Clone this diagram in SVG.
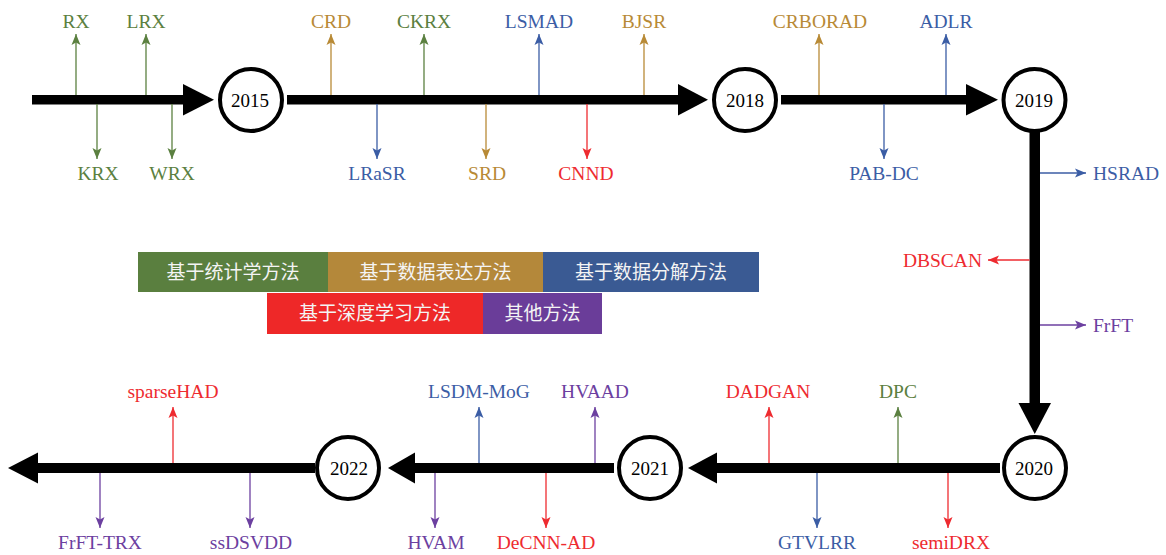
<svg xmlns="http://www.w3.org/2000/svg" width="1166" height="555" viewBox="0 0 1166 555">
<style>
.lbl{font-family:"Liberation Serif","Times New Roman",serif;font-size:19.5px}
.yr{font-family:"Liberation Serif","Times New Roman",serif;font-size:19px;fill:#000;text-anchor:middle}
.mid{text-anchor:middle}
.g{fill:#5b8040}.b{fill:#b88a36}.u{fill:#3b5da5}.r{fill:#ee2b30}.p{fill:#6c40a0}
.lg{stroke:#5b8040}.lb{stroke:#b88a36}.lu{stroke:#3b5da5}.lr{stroke:#ee2b30}.lp{stroke:#6c40a0}
.br line{stroke-width:1.3;fill:none}
.cir{fill:#fff;stroke:#000;stroke-width:4}
.leg{font-family:"Noto Sans CJK SC","Noto Sans CJK JP",sans-serif;font-size:19px;fill:#f4f4f4;text-anchor:middle}
</style>
<defs>
<marker id="mg" markerUnits="userSpaceOnUse" markerWidth="11" markerHeight="10" viewBox="0 0 11 10" refX="11" refY="5" orient="auto"><path d="M0,0.5 L11,5 L0,9.5 L2.5,5 z" fill="#5b8040"/></marker>
<marker id="mb" markerUnits="userSpaceOnUse" markerWidth="11" markerHeight="10" viewBox="0 0 11 10" refX="11" refY="5" orient="auto"><path d="M0,0.5 L11,5 L0,9.5 L2.5,5 z" fill="#b88a36"/></marker>
<marker id="mu" markerUnits="userSpaceOnUse" markerWidth="11" markerHeight="10" viewBox="0 0 11 10" refX="11" refY="5" orient="auto"><path d="M0,0.5 L11,5 L0,9.5 L2.5,5 z" fill="#3b5da5"/></marker>
<marker id="mr" markerUnits="userSpaceOnUse" markerWidth="11" markerHeight="10" viewBox="0 0 11 10" refX="11" refY="5" orient="auto"><path d="M0,0.5 L11,5 L0,9.5 L2.5,5 z" fill="#ee2b30"/></marker>
<marker id="mp" markerUnits="userSpaceOnUse" markerWidth="11" markerHeight="10" viewBox="0 0 11 10" refX="11" refY="5" orient="auto"><path d="M0,0.5 L11,5 L0,9.5 L2.5,5 z" fill="#6c40a0"/></marker>
</defs>

<g id="timeline" fill="#000">
<rect x="32" y="95" width="152" height="9.5"/>
<polygon points="183,84 214,99.75 183,115.5"/>
<rect x="287" y="95" width="392" height="9.5"/>
<polygon points="678,84 708,99.75 678,115.5"/>
<rect x="781" y="95" width="186" height="9.5"/>
<polygon points="966,84 998,99.75 966,115.5"/>
<rect x="1029.5" y="130" width="10.5" height="274"/>
<polygon points="1018.5,403 1034.75,434 1051,403"/>
<rect x="716" y="463" width="284" height="10"/>
<polygon points="717,452.5 688,468 717,483.5"/>
<rect x="414" y="463" width="200" height="10"/>
<polygon points="415,452.5 388,468 415,483.5"/>
<rect x="37" y="463" width="278" height="10"/>
<polygon points="38,452.5 8,468 38,483.5"/>
</g>

<g id="connectors" class="br">
<line x1="76" y1="95" x2="76" y2="34" class="lg" marker-end="url(#mg)"/>
<line x1="146" y1="95" x2="146" y2="34" class="lg" marker-end="url(#mg)"/>
<line x1="97" y1="104" x2="97" y2="159" class="lg" marker-end="url(#mg)"/>
<line x1="172" y1="104" x2="172" y2="159" class="lg" marker-end="url(#mg)"/>
<line x1="331" y1="95" x2="331" y2="34" class="lb" marker-end="url(#mb)"/>
<line x1="377" y1="104" x2="377" y2="159" class="lu" marker-end="url(#mu)"/>
<line x1="424" y1="95" x2="424" y2="34" class="lg" marker-end="url(#mg)"/>
<line x1="486" y1="104" x2="486" y2="159" class="lb" marker-end="url(#mb)"/>
<line x1="539" y1="95" x2="539" y2="34" class="lu" marker-end="url(#mu)"/>
<line x1="587" y1="104" x2="587" y2="159" class="lr" marker-end="url(#mr)"/>
<line x1="644" y1="95" x2="644" y2="34" class="lb" marker-end="url(#mb)"/>
<line x1="819" y1="95" x2="819" y2="34" class="lb" marker-end="url(#mb)"/>
<line x1="884" y1="104" x2="884" y2="159" class="lu" marker-end="url(#mu)"/>
<line x1="946" y1="95" x2="946" y2="34" class="lu" marker-end="url(#mu)"/>
<line x1="1040" y1="173" x2="1086" y2="173" class="lu" marker-end="url(#mu)"/>
<line x1="1029.5" y1="260" x2="988" y2="260" class="lr" marker-end="url(#mr)"/>
<line x1="1040" y1="325" x2="1086" y2="325" class="lp" marker-end="url(#mp)"/>
<line x1="769" y1="463" x2="769" y2="407" class="lr" marker-end="url(#mr)"/>
<line x1="898" y1="463" x2="898" y2="407" class="lg" marker-end="url(#mg)"/>
<line x1="817" y1="473" x2="817" y2="528" class="lu" marker-end="url(#mu)"/>
<line x1="948" y1="473" x2="948" y2="528" class="lr" marker-end="url(#mr)"/>
<line x1="479" y1="463" x2="479" y2="407" class="lu" marker-end="url(#mu)"/>
<line x1="595" y1="463" x2="595" y2="407" class="lp" marker-end="url(#mp)"/>
<line x1="435" y1="473" x2="435" y2="528" class="lp" marker-end="url(#mp)"/>
<line x1="546" y1="473" x2="546" y2="528" class="lr" marker-end="url(#mr)"/>
<line x1="173" y1="463" x2="173" y2="407" class="lr" marker-end="url(#mr)"/>
<line x1="100" y1="473" x2="100" y2="528" class="lp" marker-end="url(#mp)"/>
<line x1="250" y1="473" x2="250" y2="528" class="lp" marker-end="url(#mp)"/>
</g>

<g id="y2015"><circle class="cir" cx="251" cy="100" r="31"/><text class="yr" x="250" y="106.5">2015</text></g>
<g id="y2018"><circle class="cir" cx="745" cy="100" r="31"/><text class="yr" x="745" y="106.5">2018</text></g>
<g id="y2019"><circle class="cir" cx="1034.5" cy="100" r="31"/><text class="yr" x="1034" y="106.5">2019</text></g>
<g id="y2020"><circle class="cir" cx="1035" cy="468" r="31"/><text class="yr" x="1034" y="474.5">2020</text></g>
<g id="y2021"><circle class="cir" cx="650" cy="468" r="31"/><text class="yr" x="650" y="474.5">2021</text></g>
<g id="y2022"><circle class="cir" cx="348" cy="468" r="31"/><text class="yr" x="349" y="474.5">2022</text></g>

<g id="labels" class="lbl">
<text class="mid g" x="76" y="28">RX</text>
<text class="mid g" x="146" y="28">LRX</text>
<text class="mid g" x="98" y="180">KRX</text>
<text class="mid g" x="172" y="180">WRX</text>
<text class="mid b" x="331" y="28">CRD</text>
<text class="mid u" x="377" y="180">LRaSR</text>
<text class="mid g" x="424" y="28">CKRX</text>
<text class="mid b" x="487" y="180">SRD</text>
<text class="mid u" x="539" y="28">LSMAD</text>
<text class="mid r" x="586" y="180">CNND</text>
<text class="mid b" x="644" y="28">BJSR</text>
<text class="mid b" x="820" y="28">CRBORAD</text>
<text class="mid u" x="884" y="180">PAB-DC</text>
<text class="mid u" x="946" y="28">ADLR</text>
<text class="u" x="1093" y="180">HSRAD</text>
<text class="r" x="982" y="267" text-anchor="end">DBSCAN</text>
<text class="p" x="1093" y="332">FrFT</text>
<text class="mid r" x="768" y="398">DADGAN</text>
<text class="mid g" x="898" y="398">DPC</text>
<text class="mid u" x="817" y="549">GTVLRR</text>
<text class="mid r" x="951" y="549">semiDRX</text>
<text class="mid u" x="479" y="398">LSDM-MoG</text>
<text class="mid p" x="595" y="398">HVAAD</text>
<text class="mid p" x="436" y="549">HVAM</text>
<text class="mid r" x="546" y="549">DeCNN-AD</text>
<text class="mid r" x="173" y="398">sparseHAD</text>
<text class="mid p" x="100" y="549">FrFT-TRX</text>
<text class="mid p" x="251" y="549">ssDSVDD</text>
</g>

<g id="legend">
<g id="leg-stat"><rect x="138" y="252" width="190" height="40" fill="#5a7f3f"/><text class="leg" x="233" y="279">基于统计学方法</text></g>
<g id="leg-repr"><rect x="328" y="252" width="215" height="40" fill="#b4883a"/><text class="leg" x="435.5" y="279">基于数据表达方法</text></g>
<g id="leg-decomp"><rect x="543" y="252" width="216" height="40" fill="#3a5a93"/><text class="leg" x="651" y="279">基于数据分解方法</text></g>
<g id="leg-deep"><rect x="267" y="293" width="216" height="41" fill="#ee2828"/><text class="leg" x="375" y="320">基于深度学习方法</text></g>
<g id="leg-other"><rect x="483" y="293" width="119" height="41" fill="#6a3d99"/><text class="leg" x="542.5" y="320">其他方法</text></g>
</g>
</svg>
